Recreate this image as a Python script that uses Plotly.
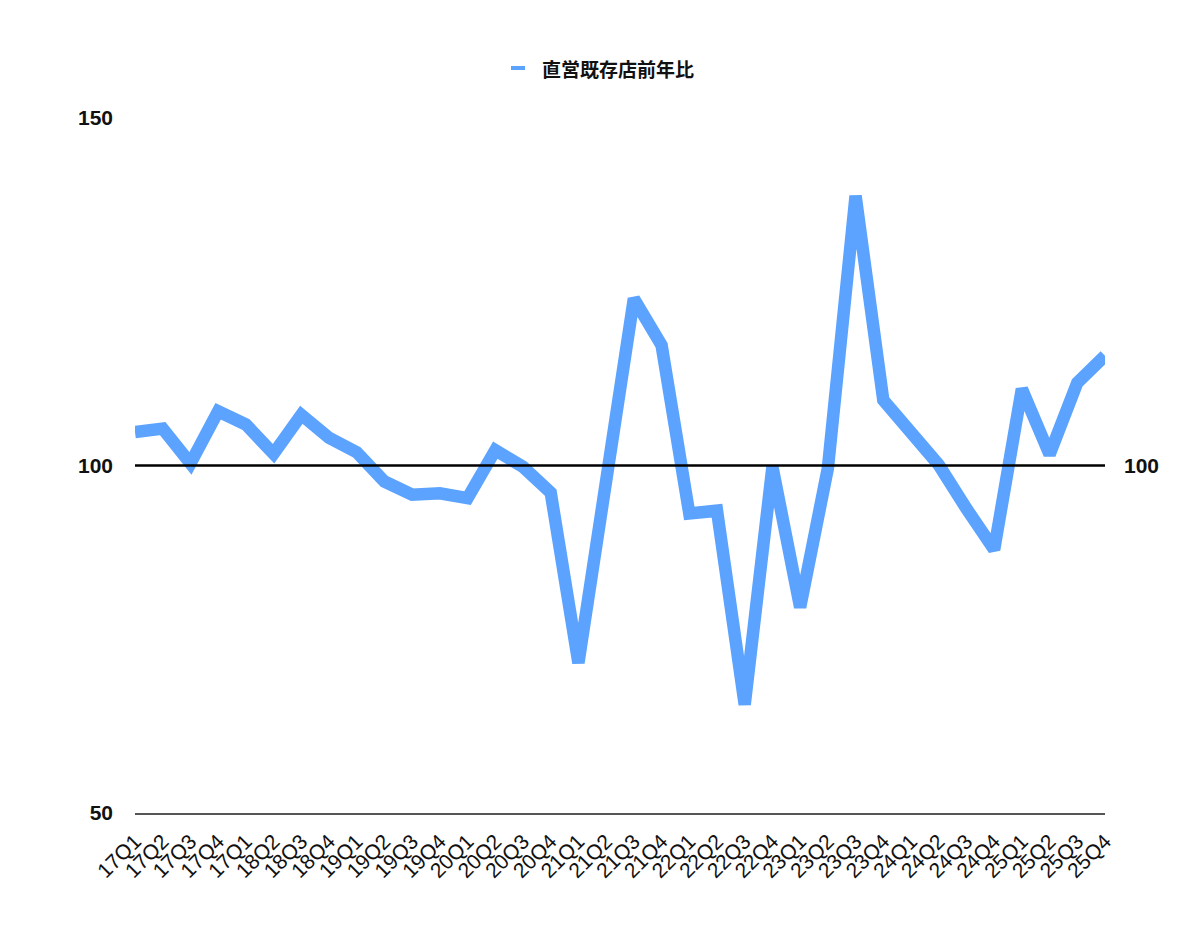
import plotly.graph_objects as go

quarters = ["17Q1", "17Q2", "17Q3", "17Q4", "17Q1", "18Q2", "18Q3", "18Q4",
            "19Q1", "19Q2", "19Q3", "19Q4", "20Q1", "20Q2", "20Q3", "20Q4",
            "21Q1", "21Q2", "21Q3", "21Q4", "22Q1", "22Q2", "22Q3", "22Q4",
            "23Q1", "23Q2", "23Q3", "23Q4", "24Q1", "24Q2", "24Q3", "24Q4",
            "25Q1", "25Q2", "25Q3", "25Q4"]
yoy = [104.8, 105.3, 100.3, 107.8, 105.9, 101.7, 107.3, 104.0,
       101.9, 97.7, 95.8, 96.0, 95.3, 102.2, 99.8, 96.1,
       71.6, 97.8, 124.0, 117.3, 93.1, 93.5, 65.6, 99.8,
       79.6, 99.6, 138.8, 109.4, 104.8, 100.1, 93.8, 87.9,
       111.0, 101.6, 111.9, 115.8]
series_name = "直営既存店前年比"
y_ticks = [50, 100, 150]
ref_value = 100

blue = "#5BA3FF"
font_family = "Liberation Sans, Noto Sans CJK JP, sans-serif"

fig = go.Figure()
fig.add_trace(go.Scatter(
    x=list(range(len(quarters))), y=yoy, mode="lines", name=series_name,
    line=dict(color=blue, width=12.5), showlegend=False, hoverinfo="x+y",
))
# invisible trace to carry right axis
fig.add_trace(go.Scatter(
    x=list(range(len(quarters))), y=yoy, mode="lines", yaxis="y2",
    line=dict(color="rgba(0,0,0,0)", width=0), showlegend=False, hoverinfo="skip",
))

# page body has an 8px margin
OFF = 8
W, H = 1200 - OFF, 929 - OFF
plot_left, plot_right, plot_top, plot_bottom = 135, 1105, 118, 813
L = plot_left - OFF
T = plot_top - OFF
pw = plot_right - plot_left
ph = plot_bottom - plot_top
R = W - L - pw
B = H - T - ph

def px_to_paper_x(px):
    return (px - plot_left) / pw

def px_to_paper_y(py):
    return (plot_bottom - py) / ph

fig.update_layout(
    width=W, height=H,
    margin=dict(l=L, r=R, t=T, b=B, pad=0),
    paper_bgcolor="white", plot_bgcolor="white",
    font=dict(family=font_family, size=16, color="#111"),
    xaxis=dict(
        range=[0, len(quarters) - 1],
        tickmode="array", tickvals=list(range(len(quarters))), ticktext=quarters,
        tickangle=-45, showgrid=False, zeroline=False,
        showline=True, linecolor="#555", linewidth=1.5,
        ticks="", ticklabelstandoff=6,
        tickfont=dict(size=21, family=font_family, color="#111"),
    ),
    yaxis=dict(
        range=[50, 150], tickmode="array", tickvals=y_ticks,
        showgrid=True, gridcolor="#c8c8c8", gridwidth=1,
        zeroline=False, showline=False, ticks="", ticklabelstandoff=21,
        tickfont=dict(size=21, family=font_family, color="#111", weight="bold"),
    ),
    yaxis2=dict(
        range=[50, 150], overlaying="y", side="right",
        tickmode="array", tickvals=[ref_value],
        showgrid=False, zeroline=False, showline=False, ticks="",
        ticklabelstandoff=18,
        tickfont=dict(size=21, family=font_family, color="#111", weight="bold"),
    ),
    shapes=[
        dict(type="line", xref="paper", yref="y", x0=0, x1=1,
             y0=ref_value, y1=ref_value,
             line=dict(color="black", width=2.5), layer="above"),
        dict(type="line", xref="paper", yref="paper",
             x0=px_to_paper_x(511), x1=px_to_paper_x(525),
             y0=px_to_paper_y(68), y1=px_to_paper_y(68),
             line=dict(color=blue, width=4)),
    ],
    annotations=[
        dict(text="<b>" + series_name + "</b>", xref="paper", yref="paper",
             x=px_to_paper_x(540), y=px_to_paper_y(68), xanchor="left", yanchor="middle",
             showarrow=False,
             font=dict(size=19, family="Noto Sans CJK JP, sans-serif", color="#111")),
    ],
)

fig.write_html("out.html")
